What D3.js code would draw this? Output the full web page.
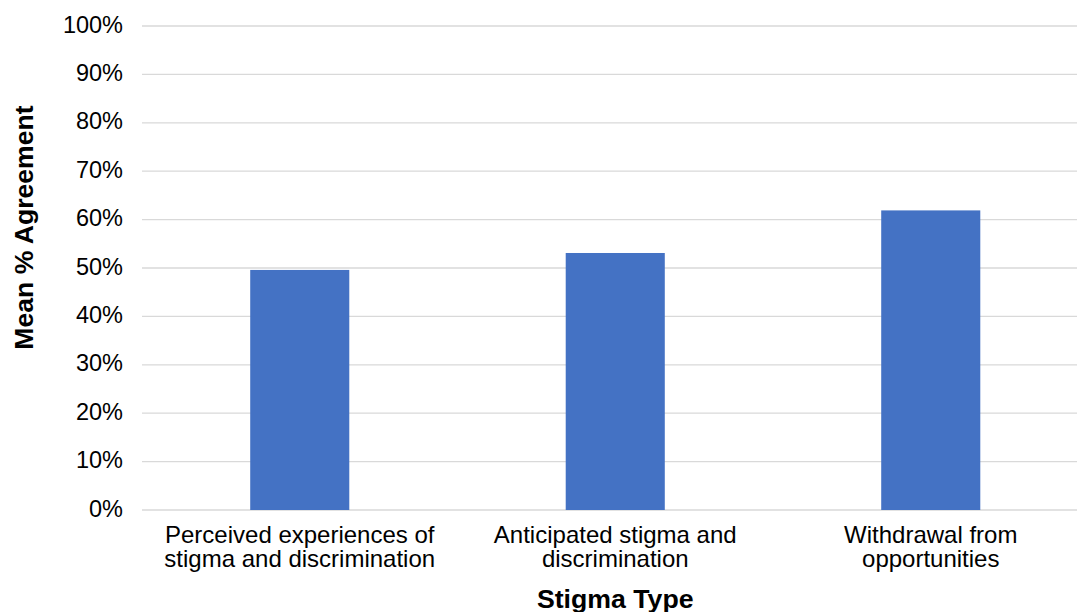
<!DOCTYPE html>
<html><head><meta charset="utf-8">
<script src="https://cdn.jsdelivr.net/npm/d3@7"></script>
<style>body{margin:0;background:#fff}svg{display:block}text{font-family:"Liberation Sans",Arial,Helvetica,sans-serif}</style>
</head><body>
<svg id="c" width="1077" height="612"></svg>
<script>
const categories = [["Perceived experiences of","stigma and discrimination"],["Anticipated stigma and","discrimination"],["Withdrawal from","opportunities"]];
const values = [49.6, 53.1, 61.9];
const yTicks = [0,10,20,30,40,50,60,70,80,90,100];
const xTitle = "Stigma Type";
const yTitle = "Mean % Agreement";

(function(){
const svg = d3.select("#c");
const mLeft = 142, mTop = 26, mBottom = 510;
const x = d3.scaleBand().domain(d3.range(categories.length)).range([mLeft, mLeft + 946.5]).paddingInner(0.686).paddingOuter(0.343);
const y = d3.scaleLinear().domain([0,100]).range([mBottom, mTop]);

svg.append("g").selectAll("line").data(yTicks).join("line")
  .attr("x1", mLeft).attr("x2", 1077).attr("y1", d=>y(d)).attr("y2", d=>y(d))
  .attr("stroke", "#d9d9d9").attr("stroke-width", 1.3);

svg.append("g").selectAll("text").data(yTicks).join("text")
  .attr("x", 123).attr("y", d=>y(d) + 6.5).attr("text-anchor","end")
  .attr("font-size", 23.5).attr("fill","#000").text(d=>d+"%");

svg.append("g").selectAll("rect").data(values).join("rect")
  .attr("x",(d,i)=>x(i)).attr("width",x.bandwidth())
  .attr("y",d=>y(d)).attr("height",d=>y(0)-y(d)).attr("fill","#4472c4");

const lab = svg.append("g").selectAll("text").data(categories).join("text")
  .attr("text-anchor","middle").attr("font-size",24).attr("fill","#000");
lab.each(function(d,i){
  const t = d3.select(this);
  d.forEach((line,j)=>t.append("tspan").attr("x", x(i)+x.bandwidth()/2).attr("y", 543 + j*24).text(line));
});

svg.append("text").attr("x", x(1)+x.bandwidth()/2).attr("y",608).attr("text-anchor","middle")
  .attr("font-size",26.7).attr("font-weight","bold").text(xTitle);
svg.append("text").attr("transform","translate(33,227.5) rotate(-90)").attr("text-anchor","middle")
  .attr("font-size",26.6).attr("font-weight","bold").text(yTitle);
})();
</script>
</body></html>
